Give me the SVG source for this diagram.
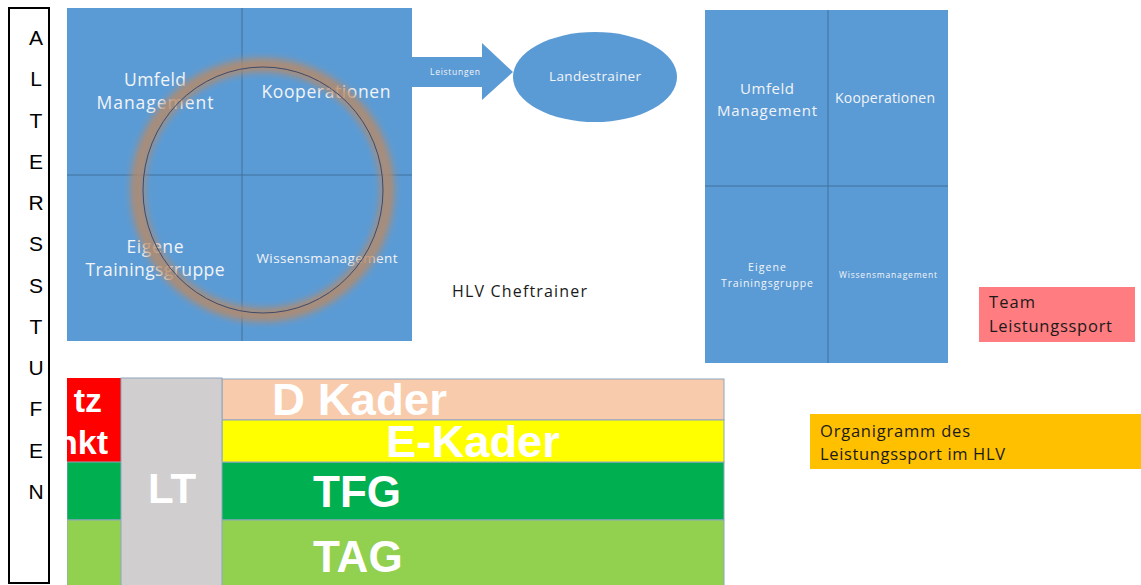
<svg xmlns="http://www.w3.org/2000/svg" width="1141" height="585" viewBox="0 0 1141 585">
<style>
.lt{font-family:"Liberation Sans",Arial,sans-serif;font-size:21px;fill:#000;text-anchor:middle}
.q{font-family:"Open Sans","Liberation Sans",sans-serif;fill:#F2F4F7;text-anchor:middle}
.dk{font-family:"Open Sans","Liberation Sans",sans-serif;fill:#1a1a1a}
.big{font-family:"Liberation Sans",Arial,sans-serif;font-weight:bold;fill:#fff}
.div{stroke:#41719C;stroke-width:1;fill:none}
.blue{fill:#5B9BD5}
.row{stroke:#8FA6C0;stroke-width:1}
</style>
<defs>
<filter id="blur" x="-20%" y="-20%" width="140%" height="140%"><feGaussianBlur stdDeviation="3.5"/></filter>
<clipPath id="tbl"><rect x="67" y="370" width="700" height="215"/></clipPath>
</defs>

<g id="altersstufen">
<rect x="9" y="8" width="40" height="575" fill="#fff" stroke="#000" stroke-width="2"/>
<text class="lt" x="36" y="45">A</text>
<text class="lt" x="36" y="86">L</text>
<text class="lt" x="36" y="128">T</text>
<text class="lt" x="36" y="169">E</text>
<text class="lt" x="36" y="210">R</text>
<text class="lt" x="36" y="251">S</text>
<text class="lt" x="36" y="293">S</text>
<text class="lt" x="36" y="334">T</text>
<text class="lt" x="36" y="375">U</text>
<text class="lt" x="36" y="416">F</text>
<text class="lt" x="36" y="458">E</text>
<text class="lt" x="36" y="499">N</text>
</g>

<g id="hlv-cheftrainer-matrix">
<rect class="blue" x="67" y="8" width="345" height="333"/>
<line class="div" x1="242" y1="8" x2="242" y2="341"/>
<line class="div" x1="67" y1="175" x2="412" y2="175"/>
<text class="q" font-size="17.5" x="155" y="86" textLength="62" lengthAdjust="spacing">Umfeld</text>
<text class="q" font-size="17.5" x="155" y="109" textLength="117" lengthAdjust="spacing">Management</text>
<text class="q" font-size="17.5" x="326" y="98" textLength="129" lengthAdjust="spacing">Kooperationen</text>
<text class="q" font-size="17.5" x="155" y="253" textLength="57" lengthAdjust="spacing">Eigene</text>
<text class="q" font-size="17.5" x="155" y="276" textLength="139" lengthAdjust="spacing">Trainingsgruppe</text>
<text class="q" font-size="13.5" x="327" y="263" textLength="141" lengthAdjust="spacing">Wissensmanagement</text>
<circle cx="262.5" cy="190" r="125" fill="none" stroke="#B88A68" stroke-width="14" opacity="0.85" filter="url(#blur)"/>
<ellipse cx="263" cy="190" rx="120" ry="123" fill="none" stroke="#3E4A6A" stroke-width="1"/>
</g>

<g id="connectors">
<polygon points="412,57 482,57 482,43 513,72 482,100 482,87 412,87" fill="#5B9BD5"/>
<text font-family="'Open Sans','Liberation Sans',sans-serif" font-size="8.5" fill="#F2F4F7" x="455" y="75" text-anchor="middle" textLength="50" lengthAdjust="spacing">Leistungen</text>
</g>

<g id="landestrainer">
<ellipse cx="595" cy="77" rx="82" ry="45" fill="#5B9BD5"/>
<text class="q" font-size="13.5" x="595" y="81" textLength="92" lengthAdjust="spacing">Landestrainer</text>
</g>

<g id="hlv-cheftrainer-label">
<text class="dk" font-size="16" x="452" y="297" textLength="135" lengthAdjust="spacing">HLV Cheftrainer</text>
</g>

<g id="right-matrix">
<rect class="blue" x="705" y="10" width="243" height="353"/>
<line class="div" x1="828" y1="10" x2="828" y2="363"/>
<line class="div" x1="705" y1="186" x2="948" y2="186"/>
<text class="q" font-size="15" x="767" y="94" textLength="54" lengthAdjust="spacing">Umfeld</text>
<text class="q" font-size="15" x="767" y="116" textLength="100" lengthAdjust="spacing">Management</text>
<text class="q" font-size="14" x="885" y="103" textLength="100" lengthAdjust="spacing">Kooperationen</text>
<text class="q" font-size="10.5" x="767" y="271" textLength="38" lengthAdjust="spacing">Eigene</text>
<text class="q" font-size="10.5" x="767" y="287" textLength="92" lengthAdjust="spacing">Trainingsgruppe</text>
<text class="q" font-size="8.5" x="888" y="278" textLength="98" lengthAdjust="spacing">Wissensmanagement</text>
</g>

<g id="team-leistungssport">
<rect x="979" y="287" width="156" height="55" fill="#FF7C80"/>
<text class="dk" font-size="16.5" x="989" y="308" textLength="46" lengthAdjust="spacing">Team</text>
<text class="dk" font-size="16.5" x="989" y="332" textLength="123" lengthAdjust="spacing">Leistungssport</text>
</g>

<g id="organigramm">
<rect x="810" y="414" width="331" height="55" fill="#FFC000"/>
<text class="dk" font-size="16.5" x="820" y="437" textLength="150" lengthAdjust="spacing">Organigramm des</text>
<text class="dk" font-size="16.5" x="820" y="460" textLength="185" lengthAdjust="spacing">Leistungssport im HLV</text>
</g>

<g id="kader-tabelle" clip-path="url(#tbl)">
<rect x="67" y="378" width="54" height="84" fill="#FF0000"/>
<text class="big" font-size="34" x="102" y="412" text-anchor="end">tz</text>
<text class="big" font-size="34" x="108" y="454" text-anchor="end">nkt</text>
<rect class="row" x="67" y="462" width="657" height="58" fill="#00B050"/>
<rect class="row" x="67" y="520" width="657" height="70" fill="#92D050"/>
<rect class="row" x="222" y="379" width="502" height="41" fill="#F8CBAD"/>
<rect class="row" x="222" y="420" width="502" height="42" fill="#FFFF00"/>
<rect class="row" x="121" y="378" width="101" height="210" fill="#D0CECE"/>
<text class="big" font-size="44" x="272" y="415" textLength="175" lengthAdjust="spacingAndGlyphs">D Kader</text>
<text class="big" font-size="44" x="386" y="457" textLength="174" lengthAdjust="spacingAndGlyphs">E-Kader</text>
<text class="big" font-size="42" x="172" y="503" text-anchor="middle">LT</text>
<text class="big" font-size="44" x="313" y="507">TFG</text>
<text class="big" font-size="44" x="313" y="572">TAG</text>
</g>
</svg>
